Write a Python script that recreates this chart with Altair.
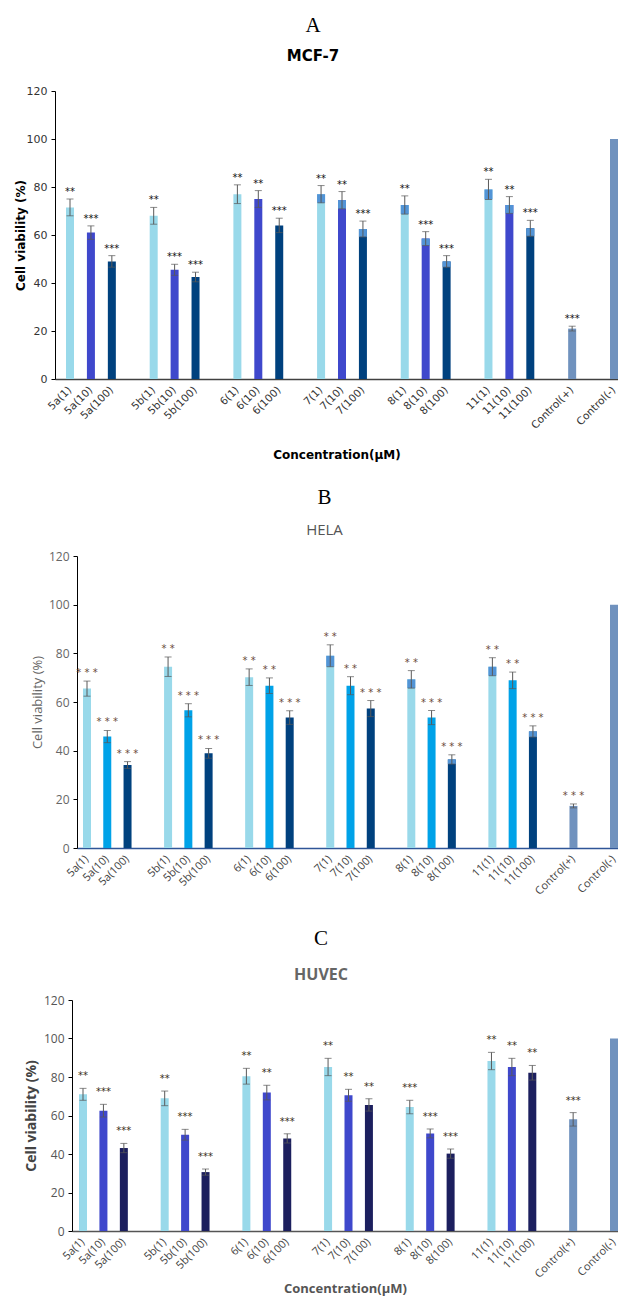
import altair as alt
import pandas as pd

# ---------------- data ----------------
categories = ["5a(1)", "5a(10)", "5a(100)", "5b(1)", "5b(10)", "5b(100)",
              "6(1)", "6(10)", "6(100)", "7(1)", "7(10)", "7(100)",
              "8(1)", "8(10)", "8(100)", "11(1)", "11(10)", "11(100)",
              "Control(+)", "Control(-)"]
dose_group = ["1", "10", "100"] * 6 + ["ctrl+", "ctrl-"]
# axis slot order (gap slots separate the compound groups)
slot_order = ["5a(1)", "5a(10)", "5a(100)", "gap1",
              "5b(1)", "5b(10)", "5b(100)", "gap2",
              "6(1)", "6(10)", "6(100)", "gap3",
              "7(1)", "7(10)", "7(100)", "gap4",
              "8(1)", "8(10)", "8(100)", "gap5",
              "11(1)", "11(10)", "11(100)", "gap6",
              "Control(+)", "gap7", "Control(-)"]

mcf7_mean = [71.5, 61.0, 49.0, 68.0, 45.5, 42.5, 77.0, 75.0, 64.0, 77.0, 74.5, 62.5,
             72.5, 58.5, 49.0, 79.0, 72.5, 62.8, 21.0, 100.0]
mcf7_sd = [3.5, 2.8, 2.4, 3.5, 2.3, 2.0, 3.9, 3.5, 3.0, 3.6, 3.6, 3.3,
           3.8, 2.9, 2.4, 4.2, 3.5, 3.3, 1.0, 0.0]
mcf7_sig = ["**", "***", "***", "**", "***", "***", "**", "**", "***", "**", "**", "***",
            "**", "***", "***", "**", "**", "***", "***", ""]
mcf7_cap = [0, 0, 0, 0, 0, 0, 0, 0, 0, 1, 1, 1, 1, 1, 1, 1, 1, 1, 0, 0]

hela_mean = [65.5, 45.8, 34.1, 74.5, 56.6, 38.9, 70.2, 66.7, 53.6, 79.0, 66.7, 57.3,
             69.3, 53.6, 36.4, 74.5, 68.9, 47.9, 17.3, 100.0]
hela_sd = [3.1, 2.5, 1.4, 4.0, 2.7, 2.0, 3.4, 3.2, 2.8, 4.5, 3.7, 3.3,
           3.6, 2.9, 1.9, 3.7, 3.4, 2.3, 0.8, 0.0]
hela_sig = ["***", "***", "***", "**", "***", "***", "**", "**", "***", "**", "**", "***",
            "**", "***", "***", "**", "**", "***", "***", ""]
hela_cap = [0, 0, 0, 0, 0, 0, 0, 0, 0, 1, 0, 0, 1, 0, 1, 1, 0, 1, 0, 0]

huvec_mean = [71.0, 62.5, 43.1, 68.9, 50.0, 30.6, 80.4, 71.9, 48.1, 85.2, 70.5, 65.5,
              64.4, 50.7, 40.2, 88.3, 85.2, 82.2, 58.0, 100.0]
huvec_sd = [3.1, 3.3, 2.4, 3.8, 2.8, 1.6, 4.1, 3.8, 2.4, 4.5, 3.1, 3.2,
            3.5, 2.3, 2.4, 4.5, 4.5, 3.8, 3.5, 0.0]
huvec_sig = ["**", "***", "***", "**", "***", "***", "**", "**", "***", "**", "**", "**",
             "***", "***", "***", "**", "**", "**", "***", ""]
huvec_cap = [0] * 20

dose_domain = ["1", "10", "100", "ctrl+", "ctrl-"]
mcf7_colors = ["#99d9ea", "#3f48cc", "#00417e", "#7092be", "#7092be"]
hela_colors = ["#99d9ea", "#00a2e8", "#00417e", "#7092be", "#7092be"]
huvec_colors = ["#99d9ea", "#3f48cc", "#1c1f5e", "#7092be", "#7092be"]

y_ticks = [0, 20, 40, 60, 80, 100, 120]

# shared horizontal frame (absolute page pixels)
PLOT_LEFT = 55
PLOT_RIGHT = 618
LAST_BAR = 614


def panel(letter, name, mean, sd, sig, cap, colors, st):
    df = pd.DataFrame({"label": categories, "dose": dose_group, "mean": mean,
                       "sd": sd, "sig": sig, "cap": cap})
    df["lo"] = df["mean"] - df["sd"]
    df["hi"] = df["mean"] + df["sd"]

    width = PLOT_RIGHT - PLOT_LEFT
    start = st["axis_x"] - PLOT_LEFT
    span = PLOT_RIGHT - st["axis_x"]
    first = st["first_bar"] - st["axis_x"]
    right = PLOT_RIGHT - LAST_BAR
    n = len(slot_order)
    step = (span - first - right) / (n - 1)
    bw = 8.0
    left_out = first - bw / 2
    right_out = right - bw / 2
    outer = left_out + right_out
    pi = 1 - bw / step
    po = outer / (2 * step)
    al = left_out / outer if outer > 0 else 0.5

    xscale = alt.Scale(domain=slot_order, range=[start, width], paddingInner=pi,
                       paddingOuter=po, align=al)
    xaxis = alt.Axis(
        labelExpr="indexof(datum.value, 'gap') == 0 ? '' : datum.value",
        labelAngle=-45, labelAlign="right", labelBaseline="middle",
        labelPadding=st["lpad"], ticks=False,
        labelFont=st["font"], labelFontSize=st["lfs"], labelColor=st["lcol"],
        domainColor=st["xdom"], domainWidth=st["xdomw"],
        title=st["xtitle"], titleFont=st["font"], titleFontSize=st["xtfs"],
        titleFontWeight="bold", titleColor=st["xtcol"], titlePadding=st["xtpad"],
        labelOverlap=False,
    )
    x = alt.X("label:N", scale=xscale, axis=xaxis)
    yscale = alt.Scale(domain=[0, 120], nice=False)
    yaxis = alt.Axis(
        values=y_ticks, grid=False, domainColor="#000000", tickColor="#000000",
        tickSize=4, labelPadding=4, labelFont=st["font"], labelFontSize=st["yfs"],
        labelColor=st["ycol"], title="Cell viability (%)", titleFont=st["font"],
        titleFontSize=st["ytfs"], titleFontWeight=st["ytw"], titleColor=st["ytcol"],
        titleX=st["titlex"], titleY=st["height"] / 2, titleBaseline="middle",
        titleAngle=-90, offset=-start,
    )

    base = alt.Chart(df)
    bars = base.mark_bar().encode(
        x=x,
        y=alt.Y("mean:Q", scale=yscale, axis=yaxis),
        color=alt.Color("dose:N", scale=alt.Scale(domain=dose_domain, range=colors),
                        legend=None),
    )
    caps = base.transform_filter("datum.cap == 1").mark_bar(color="#5294d6").encode(
        x=x, y=alt.Y("lo:Q", scale=yscale, axis=yaxis), y2="mean:Q")
    err = base.transform_filter("datum.sd > 0")
    rule = err.mark_rule(color="#595959", strokeWidth=1).encode(
        x=x, y=alt.Y("lo:Q", scale=yscale, axis=yaxis), y2="hi:Q")
    tick_hi = err.mark_tick(color="#595959", size=7, thickness=1).encode(
        x=x, y=alt.Y("hi:Q", scale=yscale, axis=yaxis))
    tick_lo = err.mark_tick(color="#595959", size=7, thickness=1).encode(
        x=x, y=alt.Y("lo:Q", scale=yscale, axis=yaxis))
    star_expr = ("datum.sig == '***' ? '* * *' : '* *'" if st["spaced"]
                 else "datum.sig")
    stars = err.transform_calculate(shown=star_expr).mark_text(
        baseline="bottom", dy=st["stardy"], fontSize=st["starfs"],
        color=st["starcol"], font="DejaVu Sans").encode(
        x=x, y=alt.Y("hi:Q", scale=yscale, axis=yaxis), text="shown:N")
    # invisible layout guide: fixes left extent and bottom extent of the panel
    guide = alt.Chart(pd.DataFrame({"s": [0]})).mark_rule(opacity=0).encode(
        x=alt.value(-st["leftext"]),
        y=alt.value(st["height"] / 2), y2=alt.value(st["height"] + st["bottomext"]))

    return alt.layer(bars, caps, rule, tick_hi, tick_lo, stars, guide).properties(
        width=width, height=st["height"],
        title=alt.TitleParams(
            text=letter, subtitle=name, font="Liberation Serif", fontSize=21,
            fontWeight="normal", color="#000000", subtitleFont=st["sfont"],
            subtitleFontSize=st["sfs"], subtitleFontWeight=st["sfw"],
            subtitleColor=st["scol"], subtitlePadding=st["spad"], offset=st["toff"],
            anchor="middle", frame="bounds"),
    )


styleA = dict(axis_x=55, first_bar=70, height=288, font="DejaVu Sans", lfs=10.5,
              lcol="#333333", lpad=9, xdom="#404040", xdomw=1.5,
              xtitle="Concentration(µM)", xtfs=12, xtcol="#000000", xtpad=19,
              yfs=11, ycol="#333333", ytfs=12, ytw="bold", ytcol="#000000", titlex=-35,
              stardy=-2, starfs=10, starcol="#111111", spaced=False, leftext=47,
              bottomext=108,
              sfont="DejaVu Sans", sfs=15, sfw="bold", scol="#000000", spad=13, toff=21)
styleB = dict(axis_x=77, first_bar=87, height=292, font="Open Sans", lfs=11,
              lcol="#444444", lpad=9, xdom="#2f5597", xdomw=1.5,
              xtitle=None, xtfs=12, xtcol="#000000", xtpad=12,
              yfs=12, ycol="#666666", ytfs=13, ytw="normal", ytcol="#666666", titlex=-40,
              stardy=-3, starfs=10, starcol="#6b4a3a", spaced=True, leftext=0,
              bottomext=80,
              sfont="Open Sans", sfs=15, sfw="normal", scol="#555555", spad=15, toff=12)
styleC = dict(axis_x=72, first_bar=83, height=231, font="Open Sans", lfs=11,
              lcol="#444444", lpad=9, xdom="#555555", xdomw=1.5,
              xtitle="Concentration(µM)", xtfs=13, xtcol="#555555", xtpad=3,
              yfs=12, ycol="#555555", ytfs=14, ytw="bold", ytcol="#444444", titlex=-41,
              stardy=-7, starfs=10, starcol="#3a3020", spaced=False, leftext=0,
              bottomext=0,
              sfont="Open Sans", sfs=16, sfw="bold", scol="#666666", spad=18, toff=11)

pA = panel("A", "MCF-7", mcf7_mean, mcf7_sd, mcf7_sig, mcf7_cap, mcf7_colors, styleA)
pB = panel("B", "HELA", hela_mean, hela_sd, hela_sig, hela_cap, hela_colors, styleB)
pC = panel("C", "HUVEC", huvec_mean, huvec_sd, huvec_sig, huvec_cap, huvec_colors, styleC)

chart = alt.vconcat(pA, pB, pC, spacing=0).resolve_scale(
    color="independent"
).properties(
    padding={"left": 0, "top": 7, "right": 0, "bottom": 0}
).configure_view(stroke=None)

chart.save("out.html", embed_options={"renderer": "svg", "actions": False})
